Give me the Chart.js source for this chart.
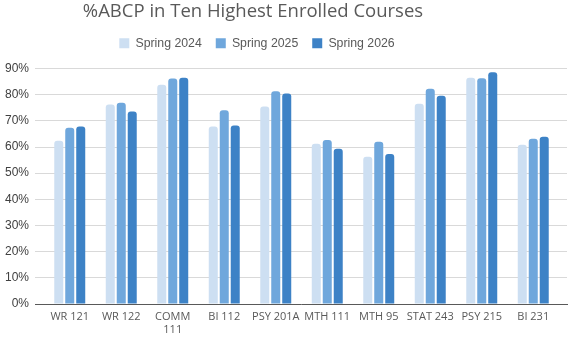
<!DOCTYPE html>
<html>
<head>
<meta charset="utf-8">
<script src="https://cdn.jsdelivr.net/npm/chart.js@4.4.1/dist/chart.umd.min.js"></script>
<style>
    html, body { margin: 0; padding: 0; background: #fff; }
    #wrap { width: 581px; height: 339px; position: relative; }
</style>
</head>
<body>
<div id="wrap"><canvas id="chart"></canvas></div>
<script>
// Course labels (COMM 111 wraps onto two lines)
const courses = ['WR 121', 'WR 122', ['COMM', '111'], 'BI 112', 'PSY 201A',
    'MTH 111', 'MTH 95', 'STAT 243', 'PSY 215', 'BI 231'];

// %ABCP per term
const spring2024 = [62.4, 76.2, 83.8, 67.8, 75.5, 61.2, 56.3, 76.5, 86.5, 60.9];
const spring2025 = [67.4, 76.9, 86.2, 74.0, 81.3, 62.7, 62.0, 82.3, 86.3, 63.2];
const spring2026 = [67.8, 73.6, 86.5, 68.2, 80.4, 59.3, 57.3, 79.6, 88.6, 63.9];

const yTicks = [0, 10, 20, 30, 40, 50, 60, 70, 80, 90];

// Tweaks to match the original layout:
// - title and legend sit a little left of the canvas centre
// - extra room between the legend and the plot
// - categories are inset from the ends of the gridlines
const layoutTweaks = {
    id: 'layoutTweaks',
    beforeUpdate(chart) {
        const legend = chart.legend;
        if (legend && !legend._padded) {
            const fit = legend.fit;
            legend.fit = function () {
                fit.call(this);
                this.height += 9;
            };
            legend._padded = true;
        }
    },
    afterLayout(chart) {
        const x = chart.scales.x;
        x._startPixel = x.left + 9;
        x._endPixel = x.right - 8;
        x._length = x._endPixel - x._startPixel;
    },
    afterUpdate(chart) {
        if (chart.titleBlock) {
            chart.titleBlock.left = 0;
            chart.titleBlock.right = 506;
        }
        if (chart.legend) {
            chart.legend.left = 0;
            chart.legend.right = 514;
            chart.legend.adjustHitBoxes();
        }
    }
};

function bar(label, data, color) {
    return {
        label,
        data,
        backgroundColor: color,
        borderRadius: { topLeft: 3, topRight: 3 },
        borderSkipped: 'bottom',
        categoryPercentage: 0.64,
        barPercentage: 0.82
    };
}

const ctx = document.getElementById('chart').getContext('2d');
new Chart(ctx, {
    type: 'bar',
    data: {
        labels: courses,
        datasets: [
            bar('Spring 2024', spring2024, '#cddff2'),
            bar('Spring 2025', spring2025, '#6fa7dc'),
            bar('Spring 2026', spring2026, '#3d82c6')
        ]
    },
    options: {
        responsive: true,
        maintainAspectRatio: false,
        animation: false,
        layout: { padding: { left: 0, right: 14, top: 0, bottom: 0 } },
        plugins: {
            title: {
                display: true,
                text: '%ABCP in Ten Highest Enrolled Courses',
                color: '#595959',
                font: { family: 'Open Sans', size: 18.5, weight: 'normal' },
                padding: { top: 1, bottom: 0 }
            },
            legend: {
                position: 'top',
                labels: {
                    color: '#595959',
                    font: { family: 'Liberation Sans', size: 12.3 },
                    boxWidth: 10,
                    boxHeight: 10,
                    padding: 14
                }
            },
            tooltip: { enabled: false }
        },
        scales: {
            x: {
                grid: { display: false, drawTicks: false },
                border: { color: '#595959', width: 1 },
                ticks: {
                    color: '#595959',
                    font: { family: 'Open Sans', size: 11 },
                    padding: 6,
                    maxRotation: 0,
                    autoSkip: false
                },
                afterFit(scale) { scale.height = 35; }
            },
            y: {
                min: 0,
                max: 90,
                afterBuildTicks(scale) {
                    scale.ticks = yTicks.map(v => ({ value: v }));
                },
                grid: { color: '#d9d9d9', drawTicks: false },
                border: { display: false },
                ticks: {
                    color: '#404040',
                    font: { family: 'Liberation Sans', size: 12 },
                    padding: 6,
                    callback: v => v + '%'
                },
                afterFit(scale) { scale.width = 35; }
            }
        }
    },
    plugins: [layoutTweaks]
});
</script>
</body>
</html>
